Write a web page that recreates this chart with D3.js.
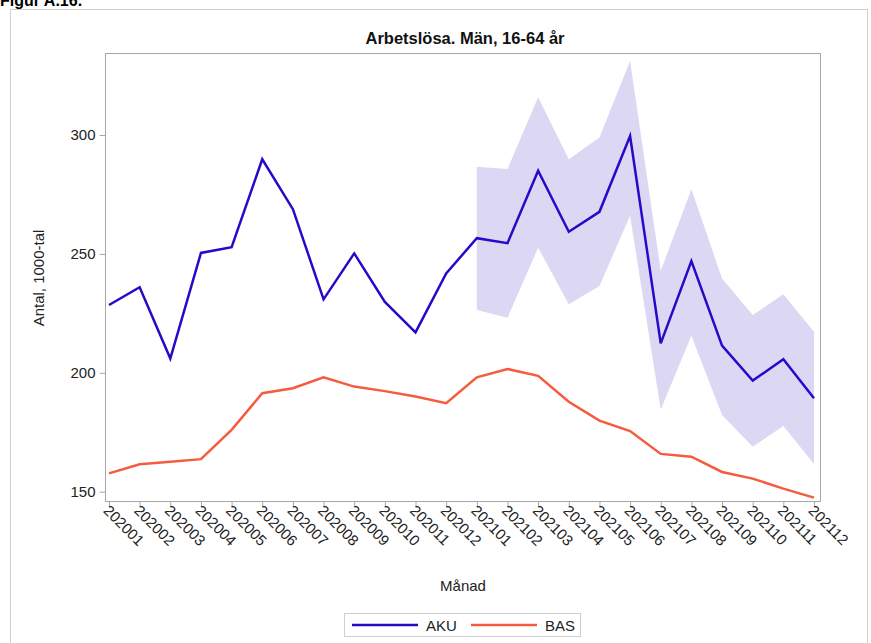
<!DOCTYPE html>
<html>
<head>
<meta charset="utf-8">
<script src="https://cdn.jsdelivr.net/npm/d3@7"></script>
<style>
  body { margin: 0; background: #fff; }
  svg { font-family: "Liberation Sans", Arial, sans-serif; }
</style>
</head>
<body>
<svg id="chart" width="871" height="643"></svg>
<script>
// Data
var months = ["202001","202002","202003","202004","202005","202006","202007","202008","202009","202010","202011","202012",
              "202101","202102","202103","202104","202105","202106","202107","202108","202109","202110","202111","202112"];
var aku = [228.5, 236, 206, 250.4, 252.8, 289.8, 268.8, 230.9, 250.2, 229.8, 217, 241.8,
           256.6, 254.5, 285, 259.3, 267.7, 299.6, 212.4, 247, 211.4, 196.7, 205.7, 189.3];
var bas = [157.7, 161.5, 162.6, 163.7, 176, 191.4, 193.5, 198.1, 194.2, 192.3, 190, 187.2,
           198.1, 201.6, 198.7, 187.8, 179.9, 175.5, 165.9, 164.7, 158.3, 155.5, 151.3, 147.5];
// confidence band for AKU, from 202101
var bandMonths = months.slice(12);
var bandLow  = [226.4, 223.2, 252.6, 228.8, 236.5, 266, 184.6, 215.6, 182.3, 168.9, 177.6, 161.6];
var bandHigh = [286.7, 285.7, 315.9, 289.8, 298.9, 331.1, 242.9, 277.2, 239.7, 224.3, 233, 217.3];
var yTicks = [150, 200, 250, 300];

var svg = d3.select("#chart");
var plotLeft = 106, plotRight = 821, plotTop = 54, plotBottom = 502;

// outer frame and figure heading
svg.append("rect")
    .attr("x", 10.5).attr("y", 9.5)
    .attr("width", 857).attr("height", 700)
    .attr("fill", "none").attr("stroke", "#cfcfcf");
svg.append("text")
    .attr("x", 0).attr("y", 6)
    .attr("font-size", 16).attr("font-weight", "bold")
    .text("Figur A.16.");

var x = d3.scalePoint()
    .domain(months)
    .range([109, 814]);
var y = d3.scaleLinear()
    .domain([150, 300])
    .range([491.7, 135]);

// band
var area = d3.area()
    .x(function (d, i) { return x(bandMonths[i]); })
    .y0(function (d, i) { return y(bandLow[i]); })
    .y1(function (d, i) { return y(bandHigh[i]); });
svg.append("path")
    .datum(bandLow)
    .attr("d", area)
    .attr("fill", "#dcd8f4");

// lines
var line = d3.line()
    .x(function (d, i) { return x(months[i]); })
    .y(function (d) { return y(d); });
svg.append("path")
    .datum(aku)
    .attr("d", line)
    .attr("fill", "none")
    .attr("stroke", "#2a07c9")
    .attr("stroke-width", 2.5);
svg.append("path")
    .datum(bas)
    .attr("d", line)
    .attr("fill", "none")
    .attr("stroke", "#f55b3c")
    .attr("stroke-width", 2.5);

// plot frame
svg.append("rect")
    .attr("x", plotLeft - 0.5).attr("y", plotTop - 0.5)
    .attr("width", plotRight - plotLeft).attr("height", plotBottom - plotTop)
    .attr("fill", "none").attr("stroke", "#a8a8a8");

// y axis
var yAxis = svg.append("g")
    .attr("transform", "translate(" + (plotLeft - 0.5) + ",0)")
    .call(d3.axisLeft(y).tickValues(yTicks).tickSize(6).tickPadding(4));
yAxis.select(".domain").remove();
yAxis.selectAll("line").attr("stroke", "#a8a8a8");
yAxis.selectAll("text")
    .attr("font-size", 15).attr("fill", "#222")
    .attr("font-family", "Liberation Sans, Arial, sans-serif");

// x axis
var xAxis = svg.append("g")
    .attr("transform", "translate(0," + (plotBottom - 0.5) + ")")
    .call(d3.axisBottom(x).tickSize(6).tickPadding(4));
xAxis.select(".domain").remove();
xAxis.selectAll("line").attr("stroke", "#a8a8a8");
xAxis.selectAll("text")
    .attr("font-size", 15).attr("fill", "#222")
    .attr("font-family", "Liberation Sans, Arial, sans-serif")
    .attr("text-anchor", "start")
    .attr("dy", null)
    .attr("y", 0)
    .attr("transform", "translate(-7,10) rotate(45)");

// titles
svg.append("text")
    .attr("x", 465).attr("y", 44)
    .attr("text-anchor", "middle")
    .attr("font-size", 16.5).attr("font-weight", "bold")
    .attr("fill", "#111")
    .text("Arbetslösa. Män, 16-64 år");
svg.append("text")
    .attr("transform", "translate(44,278) rotate(-90)")
    .attr("text-anchor", "middle")
    .attr("font-size", 15).attr("fill", "#222")
    .text("Antal, 1000-tal");
svg.append("text")
    .attr("x", 463).attr("y", 591)
    .attr("text-anchor", "middle")
    .attr("font-size", 15).attr("fill", "#222")
    .text("Månad");

// legend
var lg = svg.append("g");
lg.append("rect")
    .attr("x", 344.5).attr("y", 613.5)
    .attr("width", 236).attr("height", 23)
    .attr("fill", "#fff").attr("stroke", "#cfcfcf");
var items = [{label: "AKU", color: "#2a07c9", x: 352}, {label: "BAS", color: "#f55b3c", x: 471}];
items.forEach(function (d) {
    lg.append("line")
        .attr("x1", d.x).attr("x2", d.x + 66)
        .attr("y1", 625).attr("y2", 625)
        .attr("stroke", d.color).attr("stroke-width", 2.5);
    lg.append("text")
        .attr("x", d.x + 74).attr("y", 630.5)
        .attr("font-size", 15).attr("fill", "#222")
        .text(d.label);
});
</script>
</body>
</html>
